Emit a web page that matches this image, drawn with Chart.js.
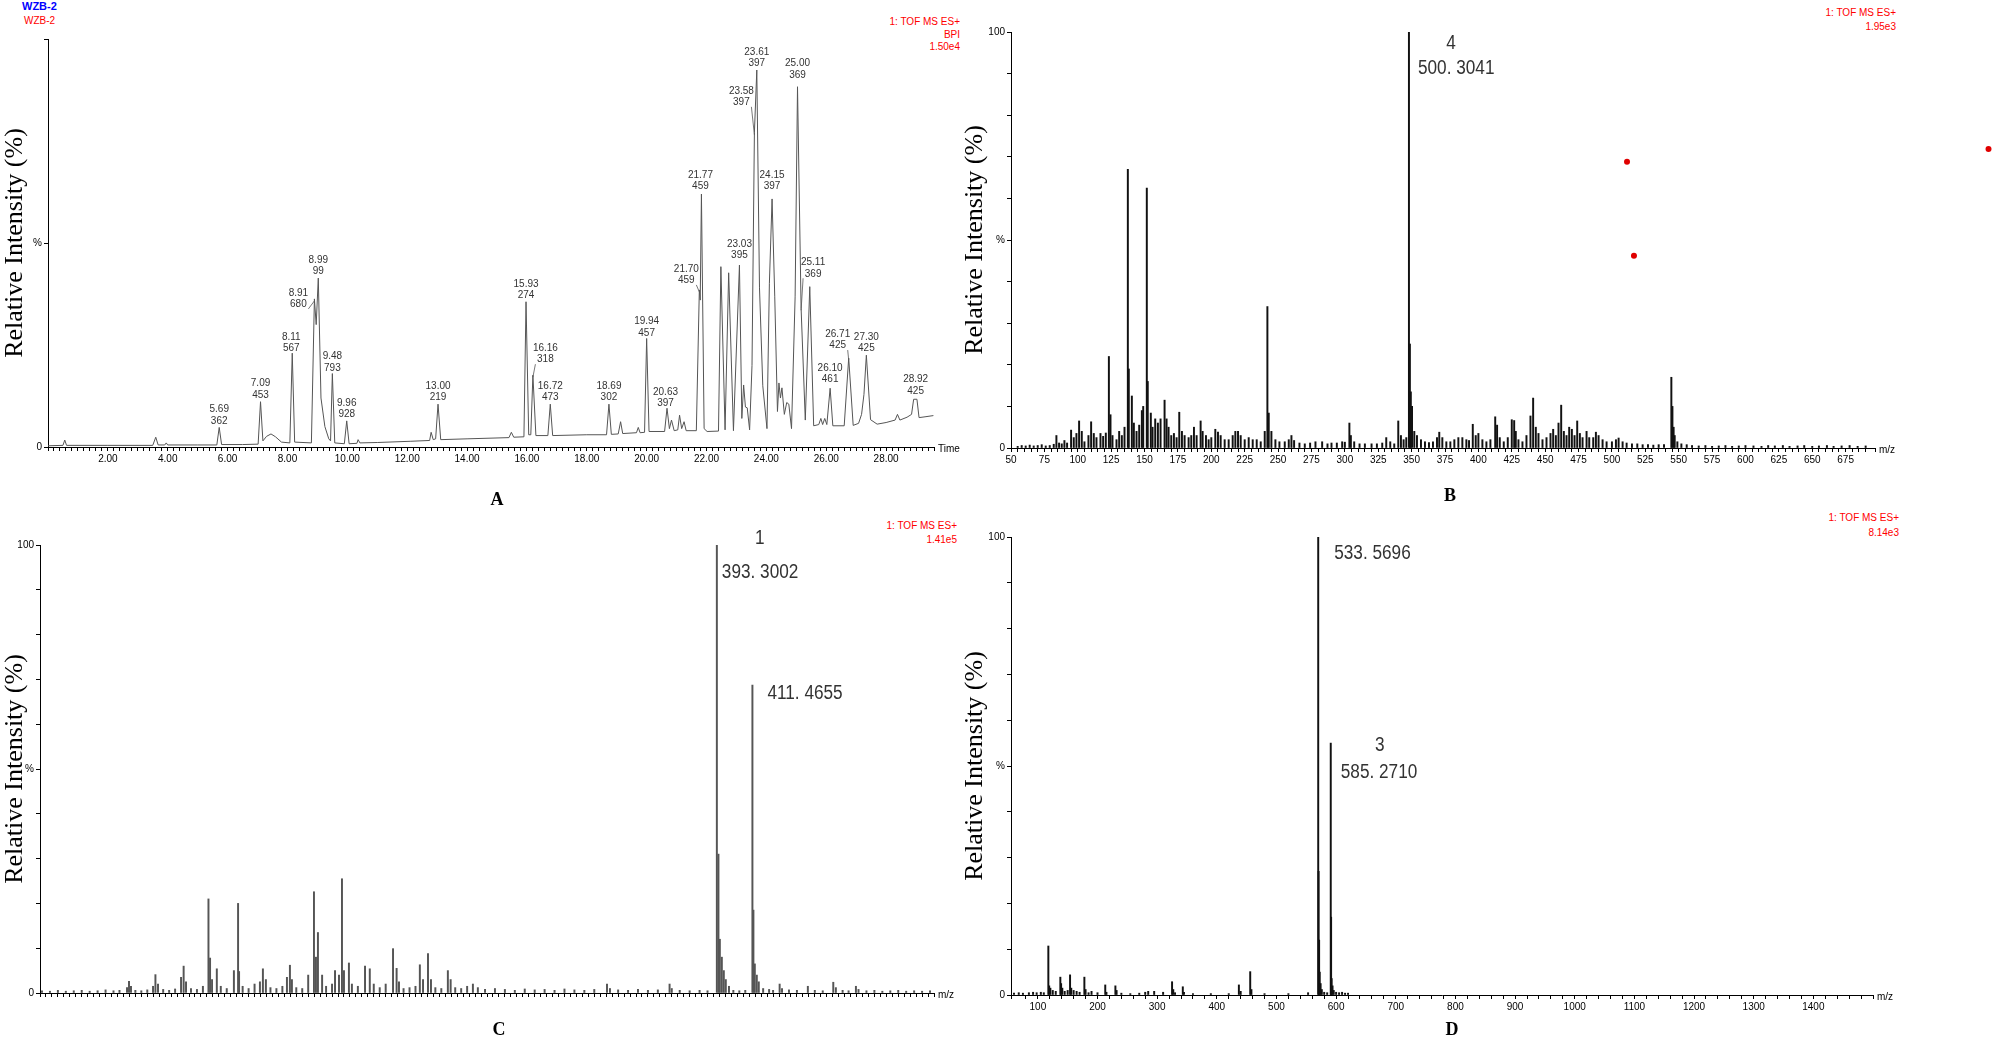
<!DOCTYPE html>
<html>
<head>
<meta charset="utf-8">
<script src="https://cdn.jsdelivr.net/npm/chart.js@4.4.1/dist/chart.umd.min.js"></script>
<style>
  body { margin: 0; width: 1993px; height: 1040px; background: #fff; position: relative; overflow: hidden; }
  canvas { position: absolute; }
  .red { position: absolute; color: #f00; font: 10px "Liberation Sans Narrow", "Liberation Sans", Arial, sans-serif; text-align: right; white-space: nowrap; }
  .letter { position: absolute; font: bold 18px "Liberation Serif", "Times New Roman", serif; transform: translate(-50%, -50%); }
</style>
</head>
<body>
<div style="position:absolute;left:22px;top:0;color:#00f;font:bold 11px 'Liberation Sans',Arial">WZB-2</div>
<div style="position:absolute;left:24px;top:15px;color:#f00;font:10px 'Liberation Sans Narrow','Liberation Sans',Arial">WZB-2</div>
<div class="red" style="right:1033px;top:16px;line-height:12.5px">1: TOF MS ES+<br>BPI<br>1.50e4</div>
<div class="red" style="right:97px;top:6px;line-height:14px">1: TOF MS ES+<br>1.95e3</div>
<div class="red" style="right:1036px;top:519px;line-height:14px">1: TOF MS ES+<br>1.41e5</div>
<div class="red" style="right:94px;top:510px;line-height:15px">1: TOF MS ES+<br>8.14e3</div>

<canvas id="chartA" width="965" height="475" style="left:0;top:0"></canvas>
<canvas id="chartB" width="1033" height="480" style="left:960px;top:0"></canvas>
<canvas id="chartC" width="965" height="520" style="left:0;top:505px"></canvas>
<canvas id="chartD" width="1033" height="520" style="left:960px;top:505px"></canvas>

<div class="letter" style="left:497px;top:499px">A</div>
<div class="letter" style="left:1450px;top:495px">B</div>
<div class="letter" style="left:499px;top:1029px">C</div>
<div class="letter" style="left:1452px;top:1029px">D</div>

<script>
// --- A: base peak chromatogram (time in min, relative intensity %) ---
const chromTime = [0.00, 0.50, 0.56, 0.62, 2.00, 3.50, 3.60, 3.68, 3.90, 3.95, 4.00, 5.00, 5.64, 5.72, 5.80, 6.50,
  7.02, 7.10, 7.18, 7.30, 7.45, 7.60, 7.80, 8.08, 8.16, 8.24, 8.80, 8.90, 8.96, 9.03, 9.12, 9.25, 9.38, 9.44,
  9.50, 9.58, 9.90, 9.98, 10.06, 10.32, 10.36, 10.42, 11.00, 12.10, 12.75, 12.80, 12.87, 12.95, 13.03, 13.12,
  14.00, 15.40, 15.48, 15.56, 15.90, 15.97, 16.06, 16.13, 16.20, 16.30, 16.70, 16.78, 16.86, 18.00, 18.66, 18.74,
  18.82, 19.05, 19.13, 19.20, 19.66, 19.72, 19.78, 19.93, 20.00, 20.08, 20.60, 20.68, 20.76, 20.83, 20.92, 21.04,
  21.10, 21.17, 21.25, 21.32, 21.66, 21.76, 21.79, 21.83, 21.92, 22.02, 22.40, 22.48, 22.62, 22.74, 22.90, 23.10,
  23.18, 23.24, 23.30, 23.36, 23.44, 23.52, 23.60, 23.68, 23.77, 23.88, 24.02, 24.10, 24.19, 24.28, 24.37, 24.42,
  24.47, 24.52, 24.60, 24.68, 24.75, 24.84, 24.96, 25.04, 25.16, 25.30, 25.45, 25.58, 25.75, 25.82, 25.88, 25.95,
  26.02, 26.13, 26.22, 26.60, 26.75, 26.90, 27.08, 27.18, 27.26, 27.34, 27.48, 27.70, 28.00, 28.30, 28.38, 28.46,
  28.70, 28.85, 28.92, 29.03, 29.10, 29.30, 29.58];
const chromInt = [0.3, 0.4, 1.7, 0.4, 0.4, 0.4, 2.4, 0.5, 0.5, 1.0, 0.5, 0.5, 0.5, 4.8, 0.6, 0.6,
  0.7, 11.1, 1.5, 2.6, 3.2, 2.5, 1.2, 1.0, 23.0, 1.2, 1.0, 36.3, 30.0, 41.4, 12.0, 5.0, 2.0, 1.5,
  18.0, 1.0, 0.8, 6.4, 0.8, 0.9, 1.8, 1.0, 1.1, 1.4, 1.6, 3.6, 1.8, 2.0, 10.5, 1.8,
  2.0, 2.3, 3.6, 2.4, 2.5, 35.6, 3.0, 3.0, 17.6, 2.8, 2.8, 10.5, 2.8, 3.0, 3.0, 10.5,
  3.1, 3.2, 6.2, 3.3, 3.5, 4.8, 3.5, 3.6, 26.6, 3.8, 3.8, 9.5, 4.5, 6.6, 4.0, 4.2,
  7.8, 4.5, 6.2, 4.0, 4.0, 38.5, 36.0, 62.0, 4.5, 3.8, 3.9, 44.2, 4.2, 42.7, 4.0, 44.6,
  7.0, 15.2, 9.8, 9.6, 4.2, 20.0, 77.0, 92.4, 39.0, 15.0, 4.5, 40.0, 60.8, 36.8, 8.7, 15.7,
  12.0, 14.5, 8.0, 10.9, 10.5, 4.5, 36.8, 88.3, 34.0, 6.6, 39.3, 5.2, 5.5, 7.0, 5.5, 7.0,
  5.5, 14.4, 5.2, 5.2, 21.8, 5.3, 5.8, 8.0, 12.9, 22.5, 6.7, 5.6, 6.0, 6.6, 8.0, 6.6,
  7.3, 8.0, 11.7, 11.7, 7.2, 7.4, 7.7];

// labelled peaks: retention time at the apex (a point of chromTime) and the printed text
const peakAt = [5.72, 7.10, 8.16, 8.90, 9.03, 9.50, 9.98, 13.03, 15.97, 16.20, 16.78, 18.74, 20.00, 20.68,
  21.76, 21.83, 23.10, 23.60, 23.68, 24.19, 25.04, 25.16, 26.13, 26.75, 27.34, 28.92];
const peakRt = ['5.69', '7.09', '8.11', '8.91', '8.99', '9.48', '9.96', '13.00', '15.93', '16.16', '16.72', '18.69', '19.94', '20.63',
  '21.70', '21.77', '23.03', '23.58', '23.61', '24.15', '25.00', '25.11', '26.10', '26.71', '27.30', '28.92'];
const peakIon = ['362', '453', '567', '680', '99', '793', '928', '219', '274', '318', '473', '302', '457', '397',
  '459', '459', '395', '397', '397', '397', '369', '369', '461', '425', '425', '425'];

// --- B: spectrum (m/z, relative intensity %) ---
const bMz = [55, 58, 61, 64, 67, 70, 73, 76, 79, 82,
  84, 86, 88, 90, 92, 95, 97, 99, 101, 103,
  105, 108, 110, 112, 114, 117, 119, 121, 123.3, 124.5,
  126, 129, 131, 133, 135, 137.5, 138.2, 140.5, 142, 144,
  146, 148, 149, 151.7, 152.4, 154.7, 156, 158, 160, 162,
  165, 166.5, 168, 170, 172, 174, 176, 178, 180, 183,
  185, 187, 189, 192, 193.5, 196, 198, 200, 203, 205,
  207, 210, 213, 216, 218, 220, 222, 225, 228, 231,
  234, 237, 240, 242, 243, 245, 248, 251, 255, 258,
  260, 262, 266, 270, 274, 278, 283, 287, 290, 294,
  298, 300, 303.4, 304.5, 307, 311, 315, 320, 324, 328,
  331, 334, 337, 340, 342, 344, 346, 348, 348.7, 349.4,
  350.3, 352, 354, 357, 360, 363, 366, 369, 370.7, 373,
  376, 379, 382, 385, 388, 391, 393, 395.8, 398, 400,
  403, 406, 409, 412.6, 414, 416, 419, 422, 425, 426.8,
  428, 430, 433, 436, 439, 441, 443, 445, 448, 451,
  454, 456, 458, 460, 462, 464, 466, 468, 470, 472,
  474, 476, 478, 481, 483, 486, 488, 490, 493, 496,
  500, 503, 505, 508, 511, 515, 519, 523, 527, 531,
  535, 539, 544.5, 545.3, 546.2, 547, 549, 552, 556, 560,
  565, 570, 575, 580, 585, 590, 595, 600, 606, 612,
  617, 622, 628, 633, 639, 644, 650, 655, 661, 666,
  672, 678, 684, 690];
const bInt = [0.4, 0.6, 0.5, 0.7, 0.5, 0.6, 0.8, 0.5, 0.6, 0.9,
  3.0, 1.2, 1.0, 1.8, 1.2, 4.3, 2.5, 3.5, 6.5, 4.0,
  1.5, 3.0, 6.3, 3.5, 2.5, 3.5, 2.8, 3.6, 22, 8,
  3, 2, 4, 3, 5, 67, 19, 12.5, 6, 4,
  5.5, 9, 10, 62.5, 16, 8.4, 5, 7, 6, 7,
  11.5, 7, 5, 3, 3.5, 2.5, 8.6, 4, 3, 2.5,
  3, 5, 3, 6.5, 4, 3, 2, 2.5, 4.5, 3.8,
  3, 2, 2, 3, 4, 4, 3, 2, 2.5, 2,
  2, 1.5, 4, 34, 8.4, 4, 2, 1.5, 1.5, 2,
  3, 1.8, 1.2, 1, 1.2, 1.5, 1.5, 1, 1.2, 1.2,
  1.5, 1.4, 6, 3, 1.5, 1, 1, 1, 1, 1.2,
  2.5, 1.5, 1, 6.5, 3, 2, 2.5, 100, 25, 13.5,
  10, 4, 3, 2, 1.5, 1.3, 1.5, 2.5, 3.8, 2.5,
  1.5, 1.5, 2, 2.5, 2.5, 2, 1.8, 5.7, 3, 3.5,
  2, 1.5, 2, 7.5, 5.5, 2.5, 1.5, 2.5, 6.8, 6.6,
  4, 2, 1.5, 3, 7.7, 12, 5, 3.5, 2, 2.5,
  3.5, 4.5, 3, 6, 10.3, 4, 3, 5, 4.5, 3,
  6.5, 3.5, 2.5, 4, 2.5, 2.5, 3.8, 3, 2, 1.5,
  1.5, 2, 2.4, 1.5, 1.2, 1, 1, 0.8, 0.8, 0.7,
  0.8, 0.8, 17, 10, 5, 3, 1.5, 1, 0.8, 0.6,
  0.5, 0.6, 0.4, 0.5, 0.6, 0.4, 0.5, 0.6, 0.5, 0.4,
  0.6, 0.5, 0.6, 0.4, 0.5, 0.6, 0.4, 0.5, 0.6, 0.4,
  0.5, 0.6, 0.4, 0.5];
const bDotMz = [511.3, 516.5, 782];   // stray red marks in the original figure
const bDotInt = [68.8, 46.2, 71.9];
const bNoteMz = [348, 348];
const bNoteText = ['4', '500. 3041'];

// --- C: spectrum ---
const cMz = [52, 56, 60, 64, 68, 72, 76, 80, 84, 88,
  91, 94.8, 95.8, 96.8, 99, 102, 105, 107.9, 109.1, 110.4,
  113, 116, 119, 122, 123.3, 124.5, 127, 130, 133, 135.8,
  136.6, 137.6, 140, 142, 145, 148.6, 150.7, 151.2, 153, 156,
  159, 161.7, 163.2, 164.7, 167, 170, 173, 175.3, 176.8, 177.8,
  180, 183, 186, 188.9, 189.9, 190.9, 193, 195, 198, 199.5,
  201.5, 203, 204, 206.5, 208, 211, 214.6, 217, 219, 222,
  225, 228.7, 230.5, 231.7, 234, 237, 240, 242.2, 243.8, 246.3,
  247.8, 250, 253, 256.3, 257.7, 260, 263, 266, 268.9, 271.4,
  275, 280, 285, 290, 295, 300, 305, 310, 315, 320,
  325, 330, 336.4, 337.9, 342, 347, 352, 357, 362, 367.9,
  369, 373, 378, 383, 387, 391.7, 392.5, 393.2, 394.2, 395.2,
  396.2, 397.8, 400, 403, 406, 409.6, 410.1, 410.8, 411.8, 412.8,
  415, 418, 420, 423.3, 424.5, 428, 432, 437.5, 441, 445,
  450.3, 451.6, 455, 458, 461.7, 463, 467, 471, 475, 479,
  483, 487, 491, 495, 499];
const cInt = [0.5, 0.4, 0.6, 0.4, 0.5, 0.6, 0.4, 0.5, 0.7, 0.5,
  0.6, 1.2, 2.6, 1.5, 0.6, 0.5, 0.7, 1.5, 4.1, 2,
  0.8, 0.6, 0.9, 3.5, 6, 2.5, 1, 0.8, 1.5, 21,
  7.8, 3, 5.4, 1.5, 1, 5, 20, 4.8, 1.5, 1,
  2, 2.5, 5.4, 3, 1.2, 1, 1.5, 3.5, 6.2, 3,
  1.2, 1, 4, 22.6, 8, 13.5, 4, 1.5, 2, 5,
  4, 25.5, 5, 6.7, 2, 1.5, 6, 5.4, 2, 1.2,
  2, 9.9, 5.5, 2.5, 1, 1.2, 1.5, 6.3, 3, 8.8,
  3, 1.2, 1, 5, 3, 1.2, 1, 1.5, 2, 1.2,
  0.8, 1, 0.8, 0.6, 0.9, 0.7, 0.8, 0.6, 0.9, 0.7,
  0.6, 0.8, 2, 1, 0.7, 0.6, 0.8, 0.6, 0.7, 2,
  1, 0.6, 0.5, 0.6, 0.5, 100, 31, 12, 8, 5,
  3, 1.5, 0.6, 0.5, 0.6, 68.75, 18.5, 6.5, 4, 2.5,
  1, 0.8, 0.6, 2, 1, 0.7, 0.6, 1.5, 0.6, 0.5,
  2.4, 1.2, 0.6, 0.5, 1.5, 0.8, 0.5, 0.6, 0.4, 0.5,
  0.6, 0.4, 0.5, 0.4, 0.5];
const cNoteMz = [391.7, 391.7, 409.6];
const cNoteText = ['1', '393. 3002', '411. 4655'];

// --- D: spectrum ---
const dMz = [60, 68, 75, 85, 92, 98, 105, 110, 117.6, 119,
  121, 125, 130, 137.7, 139, 141, 145, 150, 154, 156,
  160, 165, 170, 178, 180, 185, 190, 200, 213, 215,
  230, 232, 240, 255, 270, 280, 285, 295, 310, 325,
  327, 330, 343, 345, 360, 390, 420, 437, 440, 456,
  458, 480, 520, 553, 570, 570.6, 571.5, 572.5, 574, 576,
  580, 585, 591, 591.6, 592.5, 594, 596, 600, 605, 610,
  615, 620];
const dInt = [0.4, 0.5, 0.4, 0.5, 0.6, 0.5, 0.6, 0.5, 10.7, 2,
  1.5, 1, 0.8, 3.9, 2.5, 1.5, 0.8, 1, 4.4, 1.5,
  1, 0.8, 0.6, 3.9, 1.2, 0.5, 0.8, 0.5, 2.2, 0.6,
  2, 1, 0.4, 0.3, 0.4, 0.6, 0.8, 0.8, 0.6, 2.9,
  1.2, 0.5, 1.8, 0.6, 0.3, 0.3, 0.3, 2.2, 0.8, 5.1,
  1.2, 0.3, 0.3, 0.5, 100, 27, 12, 5, 2.5, 1.2,
  0.6, 0.5, 55, 17, 3.6, 2, 1, 0.6, 0.5, 0.6,
  0.4, 0.4];
const dNoteMz = [570, 591, 591];
const dNoteText = ['533. 5696', '3', '585. 2710'];

// label placement, in pixels from the apex: [dx, dy, connector]
const peakShift = [[0, -18], [0, -18], [-1, -16], [-16, -6, 1], [0, -18], [0, -17], [0, -18], [0, -18], [0, -18],
  [12.5, -27, 1], [0, -18], [0, -18], [0, -17], [-1.5, -16], [-13, -21, 1], [-1, -19], [0, -21], [-13, -42, 1],
  [0, -18], [0, -24], [0, -23], [12, -46, 1], [0, -20], [-11, -24, 1], [0, -18], [2, -20]];
const bNoteShift = [[42, 11, 'center'], [9, 36, 'left']];
const cNoteShift = [[43, -7, 'center'], [5, 27, 'left'], [15, 8, 'left']];
const dNoteShift = [[16, 16, 'left'], [49, 2, 'center'], [10, 29, 'left']];

const sansFamily = '"Liberation Sans Narrow", "Liberation Sans", Arial, sans-serif';
const tickFont = { family: sansFamily, size: 10 };
const titleFont = { family: '"Liberation Serif", "Times New Roman", serif', size: 26 };

const toPoints = (xs, ys) => xs.map((v, i) => ({ x: v, y: ys[i] }));

function xAxis(min, max, step, height, labelFn) {
  return {
    type: 'linear', min, max, offset: false,
    afterFit: s => { s.height = height },
    ticks: { stepSize: step, autoSkip: false, maxRotation: 0, font: tickFont, color: '#000', padding: 2, callback: labelFn },
    grid: { drawOnChartArea: false, offset: false, tickLength: 4, color: '#000' },
    border: { color: '#000' }
  };
}

function yAxis(width, step, labels) {
  return {
    min: 0, max: 100,
    afterFit: s => { s.width = width },
    ticks: { stepSize: step, autoSkip: false, font: tickFont, color: '#000', padding: 2, callback: v => labels[v] ?? '' },
    grid: { drawOnChartArea: false, tickLength: 4, color: '#000' },
    border: { color: '#000' },
    title: { display: true, text: 'Relative Intensity (%)', font: titleFont, color: '#000', padding: 0 }
  };
}

// 'Time' / 'm/z' after the end of the x axis
const endLabel = {
  id: 'endLabel',
  afterDraw(chart, args, opts) {
    if (!opts.text) return;
    const { ctx, chartArea } = chart;
    ctx.save();
    ctx.font = `10px ${sansFamily}`;
    ctx.fillStyle = '#000';
    ctx.textBaseline = 'middle';
    ctx.fillText(opts.text, chartArea.right + 4, chartArea.bottom + 2);
    ctx.restore();
  }
};

// big numbers written next to spectrum peaks (squeezed a little, like the narrow original font)
const peakNotes = {
  id: 'peakNotes',
  afterDatasetsDraw(chart, args, opts) {
    if (!opts.mz) return;
    const { ctx, scales: { x, y } } = chart;
    const pts = chart.data.datasets[0].data;
    opts.mz.forEach((m, i) => {
      const top = pts.find(p => p.x === m).y;
      const [dx, dy, align] = opts.shift[i];
      ctx.save();
      ctx.font = `20px ${sansFamily}`;
      ctx.fillStyle = '#333';
      ctx.textBaseline = 'middle';
      ctx.textAlign = align;
      ctx.translate(x.getPixelForValue(m) + dx, y.getPixelForValue(top) + dy);
      ctx.scale(0.86, 1.05);
      ctx.fillText(opts.text[i], 0, 0);
      ctx.restore();
    });
  }
};

// stray red marks, placed through the chart scales but allowed outside the plot area
const strayDots = {
  id: 'strayDots',
  afterDraw(chart, args, opts) {
    if (!opts.x) return;
    const { ctx, scales: { x, y } } = chart;
    ctx.save();
    ctx.fillStyle = '#e00000';
    opts.x.forEach((v, i) => {
      ctx.beginPath();
      ctx.arc(x.getPixelForValue(v), y.getPixelForValue(opts.y[i]), 3, 0, Math.PI * 2);
      ctx.fill();
    });
    ctx.restore();
  }
};

// retention time / ion labels over the chromatogram peaks
const chromLabels = {
  id: 'chromLabels',
  afterDatasetsDraw(chart) {
    const { ctx, scales: { x, y } } = chart;
    ctx.save();
    ctx.font = `10px ${sansFamily}`;
    ctx.fillStyle = '#333';
    ctx.strokeStyle = '#555';
    ctx.lineWidth = 0.8;
    ctx.textAlign = 'center';
    ctx.textBaseline = 'middle';
    peakAt.forEach((t, i) => {
      const k = chromTime.indexOf(t);
      const px = x.getPixelForValue(t), py = y.getPixelForValue(chromInt[k]);
      const [dx, dy, conn] = peakShift[i];
      const lx = px + dx, ly = py + dy;
      ctx.fillText(peakRt[i], lx, ly);
      ctx.fillText(peakIon[i], lx, ly + 11.5);
      if (conn) {
        ctx.beginPath();
        ctx.moveTo(lx + (dx < 0 ? 10 : -10), ly + 16);
        ctx.lineTo(px, py + 2);
        ctx.stroke();
      }
    });
    ctx.restore();
  }
};

Chart.register(endLabel, peakNotes, strayDots);

const baseOptions = {
  responsive: false,
  animation: false,
  devicePixelRatio: 1
};

const labelA = v => {
  const r = Math.round(v * 100) / 100;
  return r > 0 && r <= 28 && Math.abs(r / 2 - Math.round(r / 2)) < 1e-9 ? r.toFixed(2) : '';
};

new Chart(document.getElementById('chartA'), {
  type: 'line',
  data: {
    datasets: [{ data: toPoints(chromTime, chromInt), borderColor: '#555', borderWidth: 1, pointRadius: 0, tension: 0 }]
  },
  options: {
    ...baseOptions,
    layout: { padding: { top: 39, right: 31 } },
    scales: { x: xAxis(0, 29.6, 0.2, 28, labelA), y: yAxis(48, 50, { 0: '0', 50: '%' }) },
    plugins: { legend: { display: false }, tooltip: { enabled: false }, endLabel: { text: 'Time' } }
  },
  plugins: [chromLabels]
});

function spectrum(id, mz, ints, color, opts) {
  new Chart(document.getElementById(id), {
    type: 'bar',
    data: {
      datasets: [{ data: toPoints(mz, ints), backgroundColor: color, barThickness: 1.3, grouped: false, borderWidth: 0 }]
    },
    options: {
      ...baseOptions,
      layout: { padding: { top: opts.top, right: opts.right } },
      scales: {
        x: xAxis(opts.min, opts.max, opts.step, opts.xh, opts.label),
        y: yAxis(opts.yw, 10, { 0: '0', 50: '%', 100: '100' })
      },
      plugins: {
        legend: { display: false }, tooltip: { enabled: false },
        endLabel: { text: 'm/z' },
        peakNotes: { mz: opts.noteMz, text: opts.noteText, shift: opts.noteShift },
        strayDots: opts.dots || {}
      }
    }
  });
}

spectrum('chartB', bMz, bInt, '#111', {
  min: 50, max: 697, step: 5, xh: 32, yw: 51, top: 32, right: 118,
  label: v => (v % 25 === 0 && v <= 675 ? String(v) : ''),
  noteMz: bNoteMz, noteText: bNoteText, noteShift: bNoteShift,
  dots: { x: bDotMz, y: bDotInt }
});

spectrum('chartC', cMz, cInt, '#555', {
  min: 51, max: 501, step: 3, xh: 32, yw: 40, top: 40, right: 31,
  label: () => '',
  noteMz: cNoteMz, noteText: cNoteText, noteShift: cNoteShift
});

spectrum('chartD', dMz, dInt, '#111', {
  min: 55, max: 1500, step: 20, xh: 30, yw: 51, top: 32, right: 120,
  label: v => (v % 100 === 0 && v <= 1400 ? String(v) : ''),
  noteMz: dNoteMz, noteText: dNoteText, noteShift: dNoteShift
});
</script>
</body>
</html>
